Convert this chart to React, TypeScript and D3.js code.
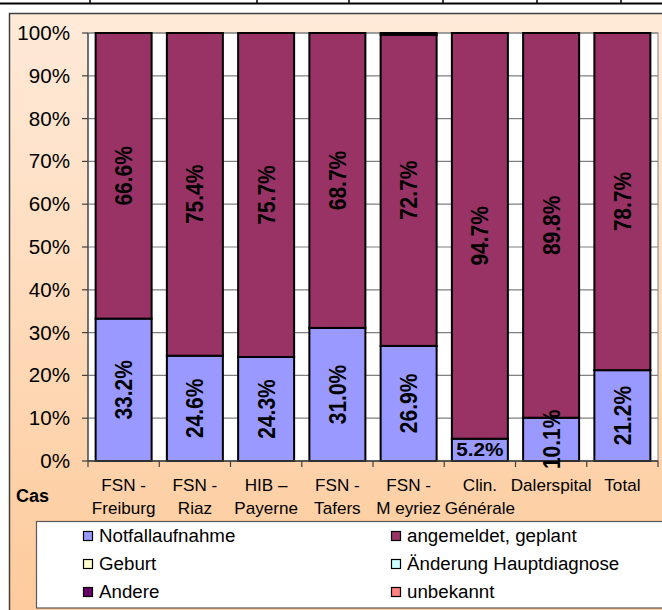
import React from "react";
import * as d3 from "d3";

const categories = ["FSN - Freiburg", "FSN - Riaz", "HIB – Payerne", "FSN - Tafers", "FSN - Meyriez", "Clin. Générale", "Dalerspital", "Total"];
const categoryLines = [["FSN -", "Freiburg"], ["FSN -", "Riaz"], ["HIB –", "Payerne"], ["FSN -", "Tafers"], ["FSN -", "M eyriez"], ["Clin.", "Générale"], ["Dalerspital"], ["Total"]];
const seriesNames = ["Notfallaufnahme", "angemeldet, geplant", "Geburt", "Änderung Hauptdiagnose", "Andere", "unbekannt"];
const notfall = [33.2, 24.6, 24.3, 31.0, 26.9, 5.2, 10.1, 21.2];
const angemeldet = [66.6, 75.4, 75.7, 68.7, 72.7, 94.7, 89.8, 78.7];
const geburt = [0, 0, 0, 0, 0, 0, 0, 0];
const aenderung = [0, 0, 0, 0, 0, 0, 0, 0];
const andere = [0, 0, 0, 0, 0.4, 0, 0, 0];
const unbekannt = [0, 0, 0, 0, 0, 0, 0, 0];
const yTicks = [0, 0.1, 0.2, 0.3, 0.4, 0.5, 0.6, 0.7, 0.8, 0.9, 1];
const colors = ["#9999FF", "#993366", "#FFFFCC", "#CCFFFF", "#660066", "#FF8080"];
const labeledSeries = [0, 1];
const topTicks = [90, 257, 349, 443, 537, 621];

const FONT = "'Liberation Sans', Arial, sans-serif";

function T({ x, y, rot = 0, size, bold = false, anchor = "middle", sx = 1.1, children }: any) {
  return (
    <text
      transform={`translate(${x},${y}) scale(${sx},1) rotate(${rot})`}
      fontFamily={FONT}
      fontSize={size}
      fontWeight={bold ? "bold" : "normal"}
      textAnchor={anchor}
      dy="0.35em"
      fill="#000"
    >
      {children}
    </text>
  );
}

export default function App() {
  const W = 662, H = 610;
  const plot = { l: 88, r: 658, t: 33, b: 461 };
  const x = d3.scaleBand<string>().domain(categories).range([plot.l, plot.r]).paddingInner(0.214).paddingOuter(0.107);
  const y = d3.scaleLinear().domain([0, 1]).range([plot.b, plot.t]);
  const rows = categories.map((c, i) => {
    const o: any = { cat: c };
    const vals = [notfall, angemeldet, geburt, aenderung, andere, unbekannt];
    seriesNames.forEach((s, k) => (o[s] = vals[k][i]));
    return o;
  });
  const stacked = d3.stack<any>().keys(seriesNames).offset(d3.stackOffsetExpand)(rows);
  const step = x.step();
  const boundaries = d3.range(categories.length + 1).map((i) => plot.l + i * step);

  const legendRows = [
    [0, 1],
    [2, 3],
    [4, 5],
  ];

  return (
    <svg width={W} height={H} style={{ position: "absolute", left: 0, top: 0, display: "block" }}>
      <defs>
        <linearGradient id="bg" x1="0" y1="0" x2="0" y2="1">
          <stop offset="0" stopColor="#FFEAD9" />
          <stop offset="1" stopColor="#FDC998" />
        </linearGradient>
      </defs>
      <rect x={0} y={0} width={W} height={H} fill="#fff" />
      {/* top table line */}
      <line x1={0} x2={W} y1={3.5} y2={3.5} stroke="#000" strokeWidth={2} />
      {topTicks.map((t) => (
        <line key={t} x1={t} x2={t} y1={0} y2={4} stroke="#000" strokeWidth={1.5} />
      ))}
      {/* chart area */}
      <rect x={9.5} y={13.5} width={W + 20} height={H + 20} fill="url(#bg)" stroke="#404040" strokeWidth={1.5} />
      {/* plot area */}
      <rect x={plot.l} y={plot.t} width={plot.r - plot.l} height={plot.b - plot.t} fill="#fff" stroke="#808080" strokeWidth={1} />
      {yTicks.map((t) => (
        <g key={t}>
          <line x1={plot.l} x2={plot.r} y1={y(t)} y2={y(t)} stroke="#808080" strokeWidth={1.2} />
          <line x1={plot.l - 6} x2={plot.l} y1={y(t)} y2={y(t)} stroke="#404040" strokeWidth={1.2} />
          <T x={70} y={y(t)} size={20} sx={1.03} anchor="end">{d3.format(".0%")(t)}</T>
        </g>
      ))}
      {/* bars */}
      {stacked.map((s, k) => (
        <g key={s.key}>
          {s.map((d, i) => {
            const h = y(d[0]) - y(d[1]);
            if (h <= 0) return null;
            return (
              <rect
                key={i}
                x={x(categories[i])}
                y={y(d[1])}
                width={x.bandwidth()}
                height={h}
                fill={colors[k]}
                stroke="#000"
                strokeWidth={2}
              />
            );
          })}
        </g>
      ))}
      {/* axes */}
      <line x1={plot.l} x2={plot.l} y1={plot.t} y2={plot.b} stroke="#404040" strokeWidth={1.2} />
      <line x1={plot.l} x2={plot.r} y1={plot.b} y2={plot.b} stroke="#404040" strokeWidth={1.5} />
      {boundaries.map((b, i) => (
        <line key={i} x1={b} x2={b} y1={plot.b} y2={plot.b + 6} stroke="#404040" strokeWidth={1.2} />
      ))}
      {/* bar labels */}
      {stacked.filter((_, k) => labeledSeries.includes(k)).map((s) => (
        <g key={"l" + s.key}>
          {s.map((d, i) => {
            const vals = s.key === seriesNames[0] ? notfall : angemeldet;
            const cx = (x(categories[i]) as number) + x.bandwidth() / 2;
            const cy = (y(d[0]) + y(d[1])) / 2;
            const h = y(d[0]) - y(d[1]);
            const horiz = h < 25;
            return (
              <T key={i} x={cx} y={cy} rot={horiz ? 0 : -90} size={horiz ? 18.5 : 21} bold sx={horiz ? 1.12 : 1.14}>
                {vals[i].toFixed(1) + "%"}
              </T>
            );
          })}
        </g>
      ))}
      {/* x labels */}
      {categoryLines.map((lines, i) => {
        const cx = (x(categories[i]) as number) + x.bandwidth() / 2;
        return lines.map((ln, j) => (
          <T key={i + "-" + j} x={cx} y={485 + j * 23} size={16} sx={1.07}>{ln}</T>
        ));
      })}
      <T x={16} y={496} size={18} bold anchor="start" sx={1.0}>Cas</T>
      {/* legend */}
      <rect x={36.5} y={521.5} width={W} height={86.5} fill="#fff" stroke="#595959" strokeWidth={1.2} />
      {legendRows.map((r, ri) =>
        r.map((k, ci) => {
          const lx = ci === 0 ? 83 : 391;
          const ly = 536 + ri * 28;
          return (
            <g key={k}>
              <rect x={lx + 0.5} y={ly - 4.5} width={9} height={9} fill={colors[k]} stroke="#000" strokeWidth={1.2} />
              <T x={lx + 16} y={ly} size={18} sx={1.04} anchor="start">{seriesNames[k]}</T>
            </g>
          );
        })
      )}
    </svg>
  );
}
